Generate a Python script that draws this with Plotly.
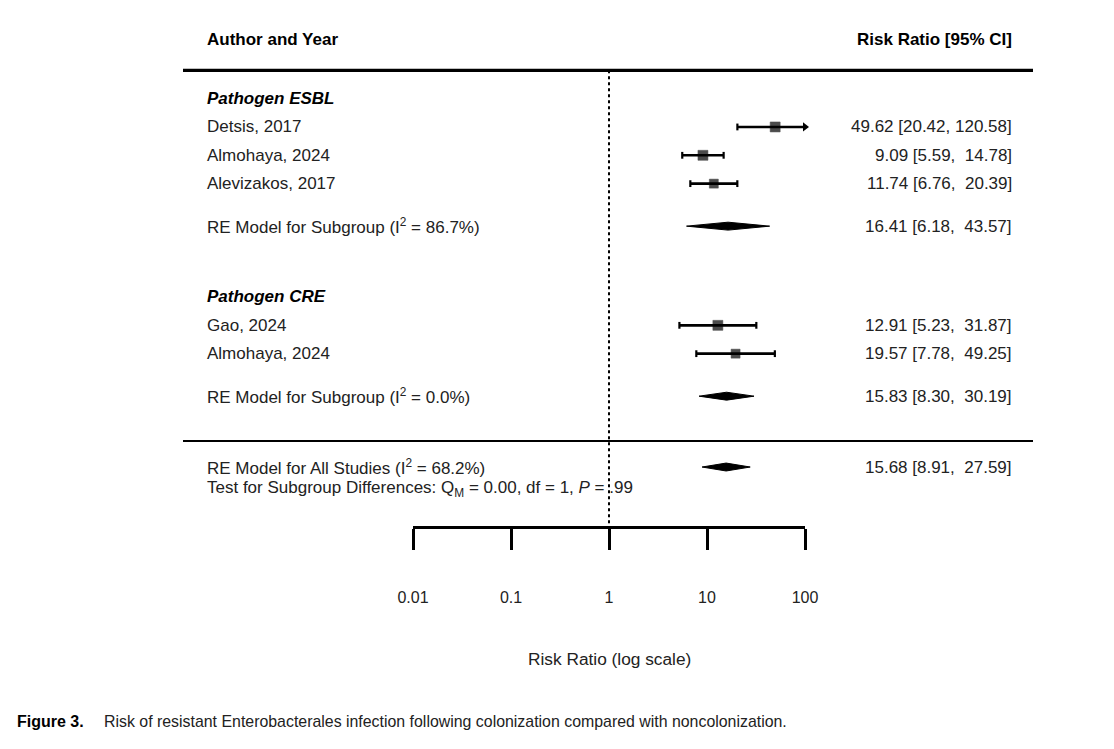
import plotly.graph_objects as go

# ---------------- data ----------------
study_labels = ["Detsis, 2017", "Almohaya, 2024", "Alevizakos, 2017", "Gao, 2024", "Almohaya, 2024"]
study_rr = [49.62, 9.09, 11.74, 12.91, 19.57]
study_lo = [20.42, 5.59, 6.76, 5.23, 7.78]
study_hi = [120.58, 14.78, 20.39, 31.87, 49.25]
study_rows = [12, 11, 10, 5, 4]

summary_labels = ["RE Model for Subgroup (I<sup>2</sup> = 86.7%)",
                  "RE Model for Subgroup (I<sup>2</sup> = 0.0%)",
                  "RE Model for All Studies (I<sup>2</sup> = 68.2%)"]
summary_rr = [16.41, 15.83, 15.68]
summary_lo = [6.18, 8.30, 8.91]
summary_hi = [43.57, 30.19, 27.59]
summary_rows = [8.5, 2.5, 0]

group_labels = ["Pathogen ESBL", "Pathogen CRE"]
group_rows = [13, 6]

tick_vals = [0.01, 0.1, 1, 10, 100]
tick_text = ["0.01", "0.1", "1", "10", "100"]
x_min, x_max = 0.01, 100

# ---------------- layout helpers ----------------
W, H = 1114, 749
FONT = "Liberation Sans, Arial, Helvetica, sans-serif"
TXT = "#222222"
px = lambda p: p / W
LEFT_X = px(205)
RIGHT_X = px(1014)

fig = go.Figure()

# reference line at RR = 1
fig.add_trace(go.Scatter(x=[1, 1], y=[14.0, -2.12], mode="lines",
                         line=dict(color="black", width=2, dash="dot"),
                         hoverinfo="skip", showlegend=False, cliponaxis=False))

# CI lines and caps
cap = 0.12
seg_x, seg_y, cap_x, cap_y = [], [], [], []
arrow_x, arrow_y = [], []
for r, lo, hi in zip(study_rows, study_lo, study_hi):
    lo_c = max(lo, x_min)
    hi_c = min(hi, x_max)
    seg_x += [lo_c, hi_c, None]
    seg_y += [r, r, None]
    if lo >= x_min:
        cap_x += [lo, lo, None]
        cap_y += [r - cap, r + cap, None]
    if hi <= x_max:
        cap_x += [hi, hi, None]
        cap_y += [r - cap, r + cap, None]
    else:
        arrow_x.append(x_max)
        arrow_y.append(r)

fig.add_trace(go.Scatter(x=seg_x, y=seg_y, mode="lines", line=dict(color="black", width=2.6),
                         hoverinfo="skip", showlegend=False, cliponaxis=False))
fig.add_trace(go.Scatter(x=cap_x, y=cap_y, mode="lines", line=dict(color="black", width=2.2),
                         hoverinfo="skip", showlegend=False, cliponaxis=False))
fig.add_trace(go.Scatter(x=arrow_x, y=arrow_y, mode="markers",
                         marker=dict(symbol="triangle-right", size=8, color="black"),
                         hoverinfo="skip", showlegend=False, cliponaxis=False))

# point estimates
fig.add_trace(go.Scatter(x=study_rr, y=study_rows, mode="markers",
                         marker=dict(symbol="square", size=[10, 10, 9, 10, 9], color="black",
                                     line=dict(width=0.5, color="black")),
                         hoverinfo="skip", showlegend=False, cliponaxis=False))

# summary diamonds
dh = 0.14
for r, est, lo, hi in zip(summary_rows, summary_rr, summary_lo, summary_hi):
    fig.add_trace(go.Scatter(x=[lo, est, hi, est, lo], y=[r, r + dh, r, r - dh, r],
                             mode="lines", fill="toself", fillcolor="black",
                             line=dict(color="black", width=1),
                             hoverinfo="skip", showlegend=False, cliponaxis=False))

def fmt(est, lo, hi):
    return f"{est:.2f} [{lo:.2f}, {hi:>6.2f}]".replace("  ", "\u00a0\u00a0").replace(", \u00a0", ",\u00a0\u00a0")

annotations = []
def add_text(text, x, y, xanchor="left", size=17, color=TXT, yref="y"):
    annotations.append(dict(text=text, x=x, y=y, xref="paper", yref=yref,
                            xanchor=xanchor, yanchor="middle", showarrow=False,
                            font=dict(family=FONT, size=size, color=color)))

# headers
add_text("<b>Author and Year</b>", LEFT_X, 15.07, size=17, color="black")
add_text("<b>Risk Ratio [95% CI]</b>", RIGHT_X, 15.07, xanchor="right", size=17, color="black")

for lab, r in zip(group_labels, group_rows):
    add_text(f"<b><i>{lab}</i></b>", LEFT_X, r, size=17, color="black")

for lab, r, est, lo, hi in zip(study_labels, study_rows, study_rr, study_lo, study_hi):
    add_text(lab, LEFT_X, r)
    add_text(fmt(est, lo, hi), RIGHT_X, r, xanchor="right")

for lab, r, est, lo, hi in zip(summary_labels, summary_rows, summary_rr, summary_lo, summary_hi):
    add_text(lab, LEFT_X, r)
    add_text(fmt(est, lo, hi), RIGHT_X, r, xanchor="right")

add_text("Test for Subgroup Differences: Q<sub>M</sub> = 0.00, df = 1, <i>P</i> = .99", LEFT_X, -0.78)

# axis title
add_text("Risk Ratio (log scale)", px(609), -6.78, size=17.3)
annotations[-1]["xanchor"] = "center"

# caption
CAP_FONT = "Liberation Sans Narrow, Arial Narrow, sans-serif"
annotations.append(dict(text="<b>Figure 3.</b>", x=px(15), y=1 - 721 / H, xref="paper", yref="paper",
                        xanchor="left", yanchor="middle", showarrow=False,
                        font=dict(family=CAP_FONT, size=16, color="black")))
annotations.append(dict(text="Risk of resistant Enterobacterales infection following colonization compared with noncolonization.",
                        x=px(102), y=1 - 721 / H, xref="paper", yref="paper",
                        xanchor="left", yanchor="middle", showarrow=False,
                        font=dict(family=CAP_FONT, size=15.9, color=TXT)))

shapes = [
    dict(type="line", xref="paper", yref="y", x0=px(183), x1=px(1033), y0=14.0, y1=14.0,
         line=dict(color="black", width=3.2)),
    dict(type="line", xref="paper", yref="y", x0=px(183), x1=px(1033), y0=0.92, y1=0.92,
         line=dict(color="black", width=2)),
]

fig.update_layout(
    width=W, height=H, margin=dict(l=0, r=0, t=0, b=0),
    paper_bgcolor="white", plot_bgcolor="white",
    showlegend=False, annotations=annotations, shapes=shapes,
    xaxis=dict(type="log", domain=[px(413), px(805)], range=[-2, 2],
               anchor="free", position=1 - 527 / H,
               showline=True, linecolor="black", linewidth=2.5,
               ticks="outside", ticklen=21, tickwidth=2.5, tickcolor="black",
               tickvals=tick_vals, ticktext=tick_text, ticklabelstandoff=34,
               tickfont=dict(family=FONT, size=16, color=TXT),
               showgrid=False, zeroline=False, fixedrange=True, automargin=False),
    yaxis=dict(range=[-9.95, 16.48], domain=[0, 1], visible=False, fixedrange=True),
)

fig.write_html("out.html")
